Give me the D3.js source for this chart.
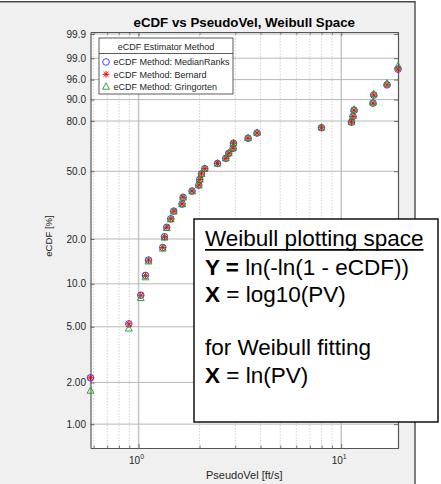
<!DOCTYPE html>
<html>
<head>
<meta charset="utf-8">
<script src="https://cdn.jsdelivr.net/npm/d3@7"></script>
<style>
  html, body { margin: 0; padding: 0; background: #ffffff; }
  svg { display: block; font-family: "Liberation Sans", Arial, Helvetica, sans-serif; }
</style>
</head>
<body>
<svg id="chart" width="441" height="484"></svg>
<script>
// PseudoVel samples [ft/s], sorted ascending
const pv = [0.579, 0.895, 1.025, 1.081, 1.119, 1.316, 1.342, 1.377, 1.441, 1.491,
            1.639, 1.658, 1.836, 1.982, 2.004, 2.043, 2.121, 2.451, 2.693, 2.786,
            2.926, 2.939, 3.469, 3.842, 7.988, 11.23, 11.43, 11.57, 14.35, 14.47,
            16.83, 19.06];

// eCDF [%] per estimator
const medianRanks = [2.160, 5.247, 8.333, 11.420, 14.506, 17.593, 20.679, 23.765, 26.852, 29.938,
                     33.025, 36.111, 39.198, 42.284, 45.370, 48.457, 51.543, 54.630, 57.716, 60.802,
                     63.889, 66.975, 70.062, 73.148, 76.235, 79.321, 82.407, 85.494, 88.580, 91.667,
                     94.753, 97.840];
const bernard = [2.160, 5.247, 8.333, 11.420, 14.506, 17.593, 20.679, 23.765, 26.852, 29.938,
                 33.025, 36.111, 39.198, 42.284, 45.370, 48.457, 51.543, 54.630, 57.716, 60.802,
                 63.889, 66.975, 70.062, 73.148, 76.235, 79.321, 82.407, 85.494, 88.580, 91.667,
                 94.753, 97.840];
const gringorten = [1.743, 4.857, 7.970, 11.083, 14.197, 17.310, 20.423, 23.537, 26.650, 29.763,
                    32.877, 35.990, 39.103, 42.217, 45.330, 48.443, 51.557, 54.670, 57.783, 60.897,
                    64.010, 67.123, 70.237, 73.350, 76.463, 79.577, 82.690, 85.803, 88.917, 92.030,
                    95.143, 98.257];

const yTickValues = [99.9, 99.0, 96.0, 90.0, 80.0, 50.0, 20.0, 10.0, 5.00, 2.00, 1.00];
const yTickLabels = ["99.9", "99.0", "96.0", "90.0", "80.0", "50.0", "20.0", "10.0", "5.00", "2.00", "1.00"];
const xMajorTicks = [1, 10];
const xMajorExponents = ["0", "1"];
const xMinorTicks = [0.6, 0.7, 0.8, 0.9, 2, 3, 4, 5, 6, 7, 8, 9];

const seriesNames = ["eCDF Method: MedianRanks", "eCDF Method: Bernard", "eCDF Method: Gringorten"];

// Weibull probability transform: ln(-ln(1 - F))
const weib = pct => Math.log(-Math.log(1 - pct / 100));

const svg = d3.select("#chart");
const L = 90.5, R = 398, T = 32, B = 448;

// figure window
svg.append("rect").attr("x", 0).attr("y", 2).attr("width", 415).attr("height", 482).attr("fill", "#f0f0f0");
svg.append("line").attr("x1", 0).attr("x2", 415.5).attr("y1", 1.8).attr("y2", 1.8).attr("stroke", "#4a4a4a").attr("stroke-width", 1.4);
svg.append("line").attr("x1", 415).attr("x2", 415).attr("y1", 1.5).attr("y2", 484).attr("stroke", "#4a4a4a").attr("stroke-width", 1.4);

const x = d3.scaleLog().domain(d3.extent(pv)).range([L, R]);
const yLin = d3.scaleLinear().domain([-5.0, 1.966]).range([B, T]);
const y = v => yLin(weib(v));

// axes background
svg.append("rect").attr("x", L).attr("y", T).attr("width", R - L).attr("height", B - T).attr("fill", "#ffffff");

const grid = svg.append("g");
grid.selectAll(".xminor").data(xMinorTicks).join("line")
  .attr("x1", d => x(d)).attr("x2", d => x(d)).attr("y1", T).attr("y2", B)
  .attr("stroke", "#c4c4c4").attr("stroke-width", 0.8).attr("stroke-dasharray", "1.5,1.5");
grid.selectAll(".xmajor").data(xMajorTicks).join("line")
  .attr("x1", d => x(d)).attr("x2", d => x(d)).attr("y1", T).attr("y2", B)
  .attr("stroke", "#c8c8c8").attr("stroke-width", 1.6);
grid.selectAll(".ymajor").data(yTickValues).join("line")
  .attr("x1", L).attr("x2", R).attr("y1", d => y(d)).attr("y2", d => y(d))
  .attr("stroke", "#b8b8b8").attr("stroke-width", 1);

// axes
const yAxisL = d3.axisLeft(yLin).tickValues(yTickValues.map(weib))
  .tickFormat((d, i) => yTickLabels[i]).tickSizeInner(-4).tickSizeOuter(0).tickPadding(4.5);
const yAxisR = d3.axisRight(yLin).tickValues(yTickValues.map(weib))
  .tickFormat("").tickSizeInner(-4).tickSizeOuter(0);
const xAxisB = d3.axisBottom(x).tickValues(xMajorTicks).tickFormat("").tickSizeInner(-4).tickSizeOuter(0);
const xAxisT = d3.axisTop(x).tickValues(xMajorTicks).tickFormat("").tickSizeInner(-4).tickSizeOuter(0);
const xMinorB = d3.axisBottom(x).tickValues(xMinorTicks).tickFormat("").tickSizeInner(-2.5).tickSizeOuter(0);
const xMinorT = d3.axisTop(x).tickValues(xMinorTicks).tickFormat("").tickSizeInner(-2.5).tickSizeOuter(0);

function styleAxis(g) {
  g.select(".domain").attr("stroke", "#555555").attr("stroke-width", 1.2);
  g.selectAll(".tick line").attr("stroke", "#555555").attr("stroke-width", 0.8);
  g.selectAll(".tick text").attr("fill", "#262626").attr("font-size", 10)
    .attr("font-family", "'Liberation Sans', Arial, Helvetica, sans-serif");
}
svg.append("g").attr("transform", `translate(0,${B})`).call(xMinorB).call(styleAxis);
svg.append("g").attr("transform", `translate(0,${T})`).call(xMinorT).call(styleAxis);
svg.append("g").attr("transform", `translate(0,${B})`).call(xAxisB).call(styleAxis);
svg.append("g").attr("transform", `translate(0,${T})`).call(xAxisT).call(styleAxis);
svg.append("g").attr("transform", `translate(${L},0)`).call(yAxisL).call(styleAxis);
svg.append("g").attr("transform", `translate(${R},0)`).call(yAxisR).call(styleAxis);

// x tick labels as powers of ten
const xLab = svg.append("g").selectAll("text").data(xMajorTicks).join("text")
  .attr("x", d => x(d) - 2).attr("y", 464).attr("text-anchor", "middle")
  .attr("font-size", 10).attr("fill", "#262626");
xLab.append("tspan").text("10");
xLab.append("tspan").attr("dy", -5).attr("font-size", 7).text((d, i) => xMajorExponents[i]);

// axis labels and title
svg.append("text").attr("x", (L + R) / 2).attr("y", 479).attr("text-anchor", "middle")
  .attr("font-size", 11).attr("fill", "#262626").text("PseudoVel [ft/s]");
svg.append("text").attr("transform", `translate(51.5,${(T + B) / 2 - 4}) rotate(-90)`).attr("text-anchor", "middle")
  .attr("font-size", 9.6).attr("fill", "#262626").text("eCDF [%]");
svg.append("text").attr("x", (L + R) / 2).attr("y", 26.5).attr("text-anchor", "middle")
  .attr("font-size", 13.3).attr("font-weight", "bold").attr("fill", "#000000")
  .text("eCDF vs PseudoVel, Weibull Space");

// marker shapes
const colors = ["#2f2fff", "#ff0000", "#1e9e1e"];
function circlePath(r) {
  return `M${r},0A${r},${r} 0 1,1 ${-r},0A${r},${r} 0 1,1 ${r},0Z`;
}
function starPath(s) {
  const d = s * 0.72;
  return `M${-s},0L${s},0M0,${-s}L0,${s}M${-d},${-d}L${d},${d}M${-d},${d}L${d},${-d}`;
}
function triPath(s) {
  return `M0,${-s * 1.05}L${s * 0.95},${s * 0.7}L${-s * 0.95},${s * 0.7}Z`;
}
const shapes = [circlePath(3.3), starPath(3.3), triPath(3.6)];
const widths = [0.9, 1.0, 0.9];
const series = [medianRanks, bernard, gringorten];

const marks = svg.append("g");
series.forEach((vals, k) => {
  marks.append("g").selectAll("path").data(vals).join("path")
    .attr("transform", (d, i) => `translate(${x(pv[i])},${y(d)})`)
    .attr("d", shapes[k]).attr("fill", "none")
    .attr("stroke", colors[k]).attr("stroke-width", widths[k]);
});

// legend
const leg = svg.append("g");
leg.append("rect").attr("x", 99).attr("y", 38).attr("width", 134).attr("height", 56)
  .attr("fill", "#ffffff").attr("stroke", "#333333").attr("stroke-width", 0.8);
leg.append("line").attr("x1", 99).attr("x2", 233).attr("y1", 53.5).attr("y2", 53.5)
  .attr("stroke", "#333333").attr("stroke-width", 0.8);
leg.append("text").attr("x", 166).attr("y", 49.5).attr("text-anchor", "middle")
  .attr("font-size", 9).attr("fill", "#262626").text("eCDF Estimator Method");
const rowY = [62, 74.3, 86.7];
seriesNames.forEach((name, k) => {
  leg.append("path").attr("transform", `translate(106,${rowY[k]})`).attr("d", shapes[k])
    .attr("fill", "none").attr("stroke", colors[k]).attr("stroke-width", widths[k]);
  leg.append("text").attr("x", 113.5).attr("y", rowY[k] + 3.3)
    .attr("font-size", 9).attr("fill", "#262626").text(name);
});

// annotation box
const ann = svg.append("g");
ann.append("rect").attr("x", 194).attr("y", 219).attr("width", 244).attr("height", 203)
  .attr("fill", "#ffffff").attr("stroke", "#000000").attr("stroke-width", 1.4);
const fs = 22.5;
const t1 = ann.append("text").attr("x", 205).attr("y", 245.5).attr("font-size", fs).attr("fill", "#000")
  .text("Weibull plotting space");
const w1 = t1.node().getComputedTextLength();
ann.append("line").attr("x1", 205).attr("x2", 205 + w1).attr("y1", 249.8).attr("y2", 249.8)
  .attr("stroke", "#000").attr("stroke-width", 1.8);
const t2 = ann.append("text").attr("x", 205).attr("y", 275).attr("font-size", fs).attr("fill", "#000");
t2.append("tspan").attr("font-weight", "bold").text("Y =");
t2.append("tspan").text(" ln(-ln(1 - eCDF))");
const t3 = ann.append("text").attr("x", 205).attr("y", 302).attr("font-size", fs).attr("fill", "#000");
t3.append("tspan").attr("font-weight", "bold").text("X");
t3.append("tspan").text(" = log10(PV)");
ann.append("text").attr("x", 205).attr("y", 355).attr("font-size", fs).attr("fill", "#000")
  .text("for Weibull fitting");
const t6 = ann.append("text").attr("x", 205).attr("y", 383).attr("font-size", fs).attr("fill", "#000");
t6.append("tspan").attr("font-weight", "bold").text("X");
t6.append("tspan").text(" = ln(PV)");
</script>
</body>
</html>
